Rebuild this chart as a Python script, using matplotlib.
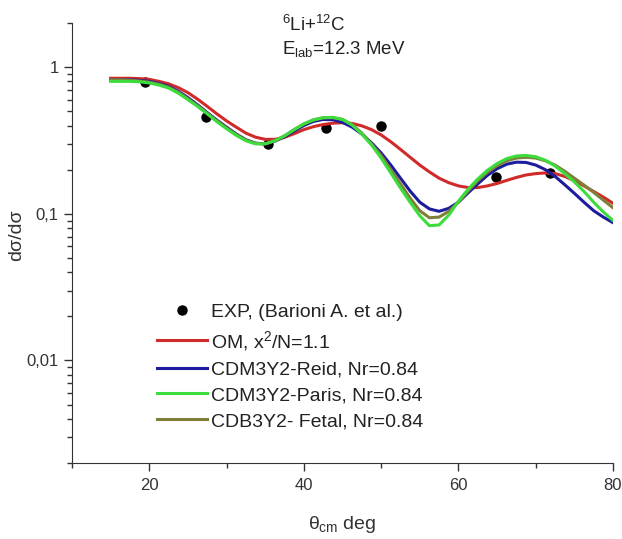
import numpy as np
import matplotlib
matplotlib.use("Agg")
import matplotlib.pyplot as plt
from matplotlib.ticker import FixedLocator, LogLocator, FuncFormatter, NullFormatter

plt.rcParams['font.family'] = ['Liberation Sans', 'DejaVu Sans']
plt.rcParams['mathtext.fontset'] = 'custom'
plt.rcParams['mathtext.rm'] = 'Liberation Sans'
plt.rcParams['mathtext.it'] = 'Liberation Sans'

# experimental points (Barioni A. et al.)
exp_x = [19.5, 27.4, 35.3, 42.9, 50.0, 64.9, 71.9]
exp_y = [0.79, 0.457, 0.30, 0.385, 0.40, 0.179, 0.19]

# theory curves, every 1.25 deg
theta = [15, 16.25, 17.5, 18.75, 20, 21.25, 22.5, 23.75, 25, 26.25, 27.5, 28.75,
         30, 31.25, 32.5, 33.75, 35, 36.25, 37.5, 38.75, 40, 41.25, 42.5, 43.75,
         45, 46.25, 47.5, 48.75, 50, 51.25, 52.5, 53.75, 55, 56.25, 57.5, 58.75,
         60, 61.25, 62.5, 63.75, 65, 66.25, 67.5, 68.75, 70, 71.25, 72.5, 73.75,
         75, 76.25, 77.5, 78.75, 80]
om = [0.84, 0.84, 0.84, 0.835, 0.825, 0.80, 0.77, 0.725, 0.67, 0.605, 0.54, 0.48,
      0.43, 0.39, 0.355, 0.333, 0.322, 0.322, 0.332, 0.352, 0.375, 0.393, 0.406, 0.415,
      0.418, 0.413, 0.398, 0.375, 0.345, 0.31, 0.275, 0.243, 0.215, 0.193, 0.175, 0.163,
      0.155, 0.151, 0.151, 0.155, 0.161, 0.169, 0.177, 0.184, 0.188, 0.19, 0.188, 0.18,
      0.168, 0.155, 0.142, 0.13, 0.118]
reid = [0.82, 0.82, 0.82, 0.812, 0.80, 0.775, 0.74, 0.685, 0.62, 0.553, 0.49, 0.435,
        0.39, 0.35, 0.32, 0.303, 0.30, 0.313, 0.335, 0.367, 0.40, 0.427, 0.44, 0.438,
        0.42, 0.39, 0.35, 0.305, 0.26, 0.215, 0.175, 0.143, 0.12, 0.108, 0.104, 0.109,
        0.12, 0.139, 0.16, 0.183, 0.203, 0.218, 0.225, 0.224, 0.215, 0.2, 0.18, 0.158,
        0.138, 0.12, 0.105, 0.095, 0.087]
paris = [0.80, 0.80, 0.80, 0.795, 0.78, 0.755, 0.72, 0.665, 0.60, 0.54, 0.48, 0.425,
         0.38, 0.343, 0.315, 0.30, 0.30, 0.315, 0.34, 0.375, 0.41, 0.437, 0.452, 0.455,
         0.44, 0.403, 0.35, 0.295, 0.24, 0.19, 0.15, 0.12, 0.097, 0.083, 0.084, 0.098,
         0.122, 0.147, 0.173, 0.198, 0.22, 0.238, 0.248, 0.25, 0.245, 0.232, 0.212, 0.188,
         0.165, 0.142, 0.12, 0.103, 0.09]
fetal = [0.82, 0.82, 0.815, 0.805, 0.79, 0.765, 0.73, 0.675, 0.61, 0.545, 0.485, 0.43,
         0.385, 0.347, 0.318, 0.302, 0.30, 0.315, 0.34, 0.375, 0.41, 0.437, 0.452, 0.452,
         0.44, 0.405, 0.355, 0.30, 0.25, 0.2, 0.16, 0.128, 0.105, 0.094, 0.095, 0.104,
         0.12, 0.143, 0.168, 0.192, 0.213, 0.23, 0.24, 0.243, 0.24, 0.23, 0.215, 0.195,
         0.175, 0.157, 0.14, 0.124, 0.11]

fig = plt.figure(figsize=(6.22, 5.39), dpi=100)
ax = fig.add_axes([72/622, 76/539, 541/622, 440/539])

ax.plot(exp_x, exp_y, 'o', color='black', markersize=6.5, label='EXP, (Barioni A. et al.)', zorder=2)
ax.plot(theta, om, color='#d02a2a', lw=2.2, label='OM, x$^2$/N=1.1', zorder=3)
ax.plot(theta, reid, color='#1c1c9c', lw=2.2, label='CDM3Y2-Reid, Nr=0.84', zorder=3)
ax.plot(theta, paris, color='#3ddc3d', lw=2.2, label='CDM3Y2-Paris, Nr=0.84', zorder=5)
ax.plot(theta, fetal, color='#7f7f3a', lw=2.2, label='CDB3Y2- Fetal, Nr=0.84', zorder=4)

ax.set_yscale('log')
ax.set_xlim(10, 80)
ax.set_ylim(0.002, 2)

ax.spines['top'].set_visible(False)
ax.spines['right'].set_visible(False)
ax.spines['left'].set_color('#333333')
ax.spines['bottom'].set_color('#333333')

ax.xaxis.set_major_locator(FixedLocator([20, 40, 60, 80]))
ax.xaxis.set_minor_locator(FixedLocator([10, 30, 50, 70]))
ax.yaxis.set_major_locator(FixedLocator([0.01, 0.1, 1]))
ax.yaxis.set_minor_locator(LogLocator(base=10, subs=np.arange(2, 10)))
ax.yaxis.set_minor_formatter(NullFormatter())
ax.yaxis.set_major_formatter(FuncFormatter(lambda v, p: ('%g' % v).replace('.', ',')))
ax.tick_params(which='major', length=6, width=1, color='#333333', labelsize=12, labelcolor='#333333')
ax.tick_params(axis='x', which='major', pad=5)
ax.tick_params(which='minor', length=3.5, width=1, color='#333333')

ax.set_ylabel('d\u03c3/d\u03c3', fontsize=14, color='#333333')
ax.yaxis.set_label_coords(-0.087, 0.518)
ax.set_xlabel(r'$\theta_{\rm cm}$ deg', fontsize=14, color='#333333', va='center')
ax.xaxis.set_label_coords(0.5, -0.139)

fig.text(282/622, 1 - 25/539, '$^6$Li+$^{12}$C', fontsize=13.5, color='#222222', va='center')
fig.text(282/622, 1 - 49/539, 'E$_{\\rm lab}$=12.3 MeV', fontsize=13.5, color='#222222', va='center')

ax.legend(loc='upper left', bbox_to_anchor=(157/622, 1 - 303/539), bbox_transform=fig.transFigure,
          frameon=False, fontsize=14, handlelength=2.55, handletextpad=0.25, labelspacing=0.42,
          borderpad=0, borderaxespad=0, labelcolor='#222222')

fig.savefig('out.png', dpi=100)
